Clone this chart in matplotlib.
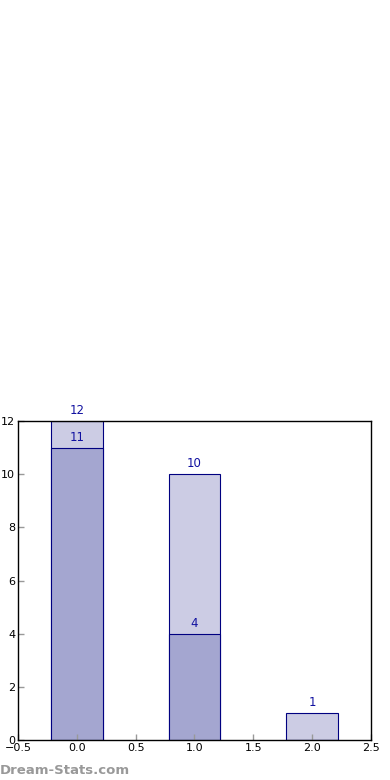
import matplotlib
matplotlib.use("Agg")
import matplotlib.pyplot as plt

# Bar positions and values
positions = [0, 1, 2]
totals = [12, 10, 1]
subset = [11, 4, 0]

light_color = "#cccce4"
dark_color = "#a4a6d0"
edge_color = "#000080"
text_color = "#1010a0"

fig = plt.figure(figsize=(3.9, 7.8), dpi=100)
ax = fig.add_axes([0.046, 0.0513, 0.905, 0.4087])

# Total bars first, subset bars on top
ax.bar(positions, totals, width=0.44, color=light_color, edgecolor=edge_color, linewidth=0.8)
ax.bar(positions, subset, width=0.44, color=dark_color, edgecolor=edge_color, linewidth=0.8)

for x, v in zip(positions, totals):
    ax.text(x, v + 0.15, str(v), ha="center", va="bottom", fontsize=8.5, color=text_color)
for x, v in zip(positions, subset):
    if v > 0:
        ax.text(x, v + 0.15, str(v), ha="center", va="bottom", fontsize=8.5, color=text_color)

ax.set_xlim(-0.5, 2.5)
ax.set_ylim(0, 12)
ax.set_xticks([-0.5, 0.0, 0.5, 1.0, 1.5, 2.0, 2.5])
ax.set_yticks([0, 2, 4, 6, 8, 10, 12])
ax.tick_params(direction="in", length=4, width=1, color="#999999", labelsize=8, pad=2)
for s in ax.spines.values():
    s.set_linewidth(1)

fig.text(0.0, 0.004, "Dream-Stats.com", fontsize=9.5, fontweight="bold", color="#999999",
         ha="left", va="bottom")

fig.savefig("out.png", dpi=100)
